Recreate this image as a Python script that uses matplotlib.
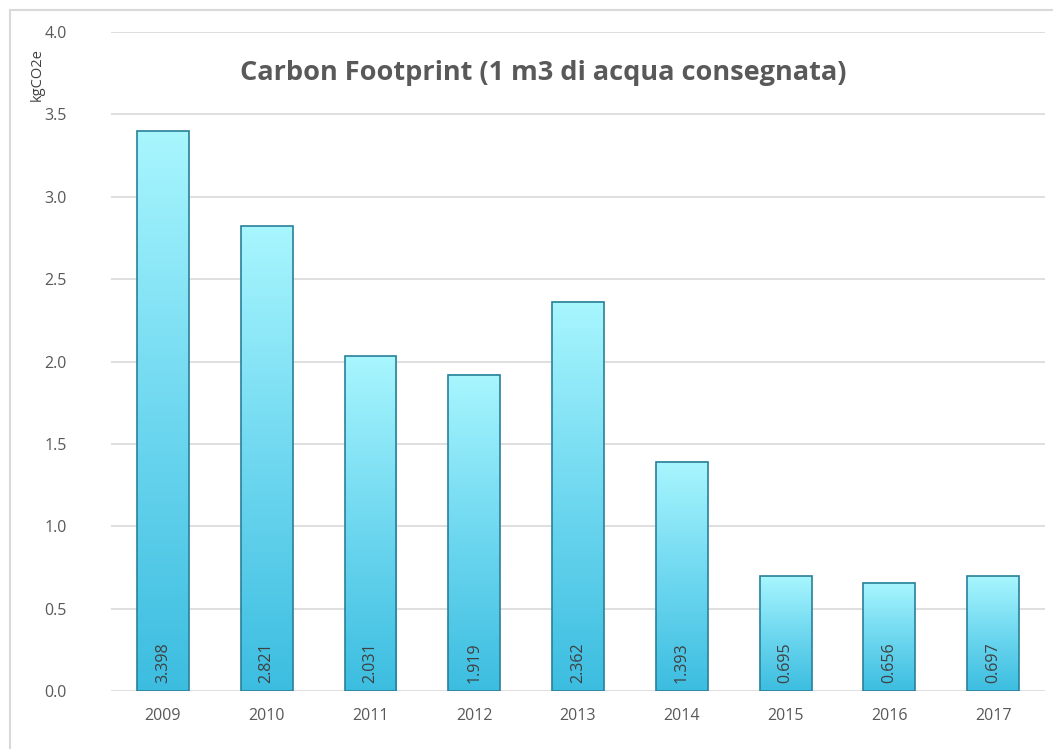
import matplotlib.pyplot as plt
import numpy as np
from matplotlib.patches import Rectangle
from matplotlib.colors import LinearSegmentedColormap

# Dati
anni = ["2009", "2010", "2011", "2012", "2013", "2014", "2015", "2016", "2017"]
valori = [3.398, 2.821, 2.031, 1.919, 2.362, 1.393, 0.695, 0.656, 0.697]
etichette_y = ["0.0", "0.5", "1.0", "1.5", "2.0", "2.5", "3.0", "3.5", "4.0"]

plt.rcParams['font.family'] = ['Open Sans', 'DejaVu Sans']
grigio = "#595959"

fig = plt.figure(figsize=(10.53, 7.49), dpi=100)
ax = fig.add_axes([111 / 1053, 1 - 691 / 749, (1045 - 111) / 1053, (691 - 32) / 749])

# bordo esterno del grafico
fig.patches.append(Rectangle((10 / 1053, -0.05), 1.1, 1 - 10 / 749 + 0.05,
                             transform=fig.transFigure, fill=False,
                             edgecolor="#d9d9d9", linewidth=1.5))

cmap = LinearSegmentedColormap.from_list("barre", ["#3cbde0", "#6fd8f0", "#a8f6fe"])
grad = np.linspace(0, 1, 256).reshape(-1, 1)

x = np.arange(len(anni))
larghezza = 0.5
for xi, v in zip(x, valori):
    x0, x1 = xi - larghezza / 2, xi + larghezza / 2
    ax.imshow(grad, cmap=cmap, aspect="auto", extent=(x0, x1, 0, v),
              origin="lower", zorder=2, interpolation="bilinear")
    ax.add_patch(Rectangle((x0, 0), larghezza, v, fill=False,
                           edgecolor="#2a8099", linewidth=1.2, zorder=3))
    ax.text(xi, 0.05, f"{v:.3f}", rotation=90, ha="center", va="bottom",
            fontsize=11.5, color="#404040", zorder=4)

ax.set_xlim(-0.5, len(anni) - 0.5)
ax.set_ylim(0, 4.0)
ax.set_xticks(x)
ax.set_xticklabels(anni)
ax.set_yticks([float(s) for s in etichette_y])
ax.set_yticklabels(etichette_y)
ax.tick_params(axis="both", length=0, colors=grigio, labelsize=11.5)
ax.tick_params(axis="x", pad=12)
ax.tick_params(axis="y", pad=32)
ax.grid(axis="y", color="#dcdcdc", linewidth=1.3, zorder=0)
ax.set_axisbelow(True)
for s in ax.spines.values():
    s.set_visible(False)

fig.text(543 / 1053, 1 - 73 / 749, "Carbon Footprint (1 m3 di acqua consegnata)",
         ha="center", va="center", fontsize=19.5, fontweight="bold", color=grigio)
fig.text(37 / 1053, 1 - 75 / 749, "kgCO2e", rotation=90, ha="center", va="center",
         fontsize=10.5, color="#404040")

fig.savefig("out.png", dpi=100)
